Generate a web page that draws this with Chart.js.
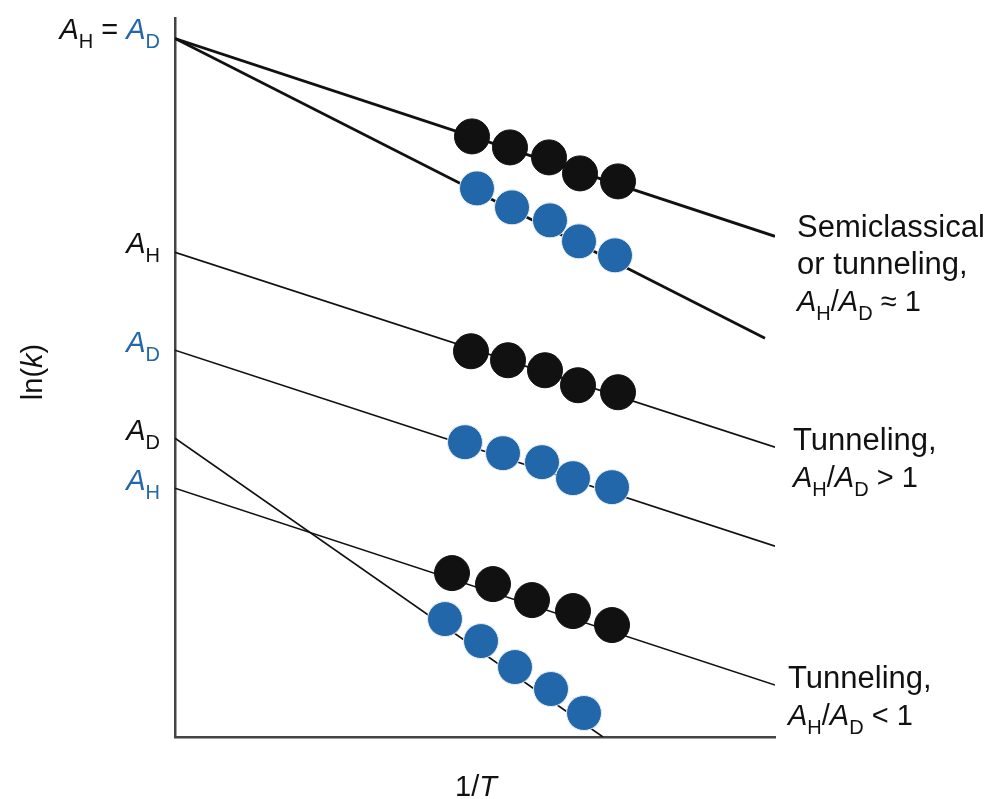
<!DOCTYPE html>
<html>
<head>
<meta charset="utf-8">
<script src="https://cdn.jsdelivr.net/npm/chart.js@4/dist/chart.umd.min.js"></script>
<style>
    body { margin: 0; background: #fff; }
    #wrap { width: 989px; height: 799px; }
</style>
</head>
<body>
<div id="wrap"><canvas id="arrhenius"></canvas></div>
<script>
// Axis ranges (arbitrary units: 1/T across, ln(k) up)
const xRange = [0, 600];
const yRange = [0, 719];

// Fitted lines, [start, end] as 1/T and ln(k)
const semiH_lineX = [0, 600];
const semiH_lineY = [699, 501];
const semiD_lineX = [0, 590];
const semiD_lineY = [699, 399];
const tunGtH_lineX = [0, 600];
const tunGtH_lineY = [485, 290];
const tunGtD_lineX = [0, 600];
const tunGtD_lineY = [387, 191];
const tunLtD_lineX = [0, 428];
const tunLtD_lineY = [299, 0];
const tunLtH_lineX = [0, 600];
const tunLtH_lineY = [249, 52];

// Measured points
const semiH_x = [297, 335, 374, 405, 443];
const semiH_y = [601, 590, 580, 564, 556];
const semiD_x = [302, 337, 375, 404, 440];
const semiD_y = [549, 530, 517, 496, 482];
const tunGtH_x = [296, 333, 370, 403, 443];
const tunGtH_y = [386, 377, 367, 352, 345];
const tunGtD_x = [290, 328, 367, 398, 437];
const tunGtD_y = [295, 284, 275, 259, 250];
const tunLtH_x = [277, 318, 357, 398, 437];
const tunLtH_y = [164, 153, 137, 126, 112];
const tunLtD_x = [270, 306, 340, 376, 409];
const tunLtD_y = [118, 96, 70, 48, 24];

const BLACK = '#111111';
const BLUE = '#2267aa';
const FONT = '"Liberation Sans", Arial, sans-serif';

function pts(xs, ys) {
    return xs.map((x, i) => ({ x: x, y: ys[i] }));
}

function lineSet(xs, ys, width) {
    return {
        data: pts(xs, ys),
        showLine: true,
        borderColor: BLACK,
        borderWidth: width,
        pointRadius: 0,
        order: 2
    };
}

function dotSet(xs, ys, color) {
    return {
        data: pts(xs, ys),
        showLine: false,
        backgroundColor: color,
        borderColor: color === BLUE ? '#e8eef6' : BLACK,
        borderWidth: 1,
        pointRadius: 17.5,
        order: 1
    };
}

// draw a run of text pieces (n = normal, w = larger words, i = italic, s = subscript)
function drawRich(ctx, parts, x, y, align) {
    const fonts = {
        n: '29px ' + FONT,
        w: '31px ' + FONT,
        i: 'italic 29px ' + FONT,
        s: '20px ' + FONT
    };
    let total = 0;
    parts.forEach(p => {
        ctx.font = fonts[p.f];
        total += ctx.measureText(p.t).width;
    });
    let cx = align === 'right' ? x - total : (align === 'center' ? x - total / 2 : x);
    ctx.textBaseline = 'alphabetic';
    ctx.textAlign = 'left';
    parts.forEach(p => {
        ctx.font = fonts[p.f];
        ctx.fillStyle = p.c || BLACK;
        ctx.fillText(p.t, cx, y + (p.f === 's' ? 9 : 0));
        cx += ctx.measureText(p.t).width;
    });
}

function ratio(sign) {
    return [
        { t: 'A', f: 'i' }, { t: 'H', f: 's' }, { t: '/', f: 'n' },
        { t: 'A', f: 'i' }, { t: 'D', f: 's' }, { t: ' ' + sign + ' 1', f: 'n' }
    ];
}

const labelPlugin = {
    id: 'labels',
    afterDraw(chart) {
        const ctx = chart.ctx;
        const ys = chart.scales.y;
        const py = v => ys.getPixelForValue(v);
        ctx.save();

        // intercept labels on the left
        drawRich(ctx, [
            { t: 'A', f: 'i' }, { t: 'H', f: 's' }, { t: ' = ', f: 'n' },
            { t: 'A', f: 'i', c: BLUE }, { t: 'D', f: 's', c: BLUE }
        ], 160, py(semiH_lineY[0]) + 1, 'right');
        drawRich(ctx, [{ t: 'A', f: 'i' }, { t: 'H', f: 's' }], 160, py(tunGtH_lineY[0]) + 1, 'right');
        drawRich(ctx, [{ t: 'A', f: 'i', c: BLUE }, { t: 'D', f: 's', c: BLUE }], 160, py(tunGtD_lineY[0]) + 2, 'right');
        drawRich(ctx, [{ t: 'A', f: 'i' }, { t: 'D', f: 's' }], 160, py(tunLtD_lineY[0]) + 2, 'right');
        drawRich(ctx, [{ t: 'A', f: 'i', c: BLUE }, { t: 'H', f: 's', c: BLUE }], 160, py(tunLtH_lineY[0]) + 2, 'right');

        // regime labels on the right
        drawRich(ctx, [{ t: 'Semiclassical', f: 'w' }], 797, 237, 'left');
        drawRich(ctx, [{ t: 'or tunneling,', f: 'w' }], 797, 274, 'left');
        drawRich(ctx, ratio('\u2248'), 797, 311, 'left');
        drawRich(ctx, [{ t: 'Tunneling,', f: 'w' }], 793, 450, 'left');
        drawRich(ctx, ratio('>'), 793, 487, 'left');
        drawRich(ctx, [{ t: 'Tunneling,', f: 'w' }], 788, 688, 'left');
        drawRich(ctx, ratio('<'), 788, 725, 'left');

        // axis titles
        drawRich(ctx, [{ t: '1/', f: 'n' }, { t: 'T', f: 'i' }], 476, 796, 'center');
        ctx.translate(42, 372);
        ctx.rotate(-Math.PI / 2);
        drawRich(ctx, [{ t: 'ln(', f: 'n' }, { t: 'k', f: 'i' }, { t: ')', f: 'n' }], 0, 0, 'center');
        ctx.restore();
    }
};

new Chart(document.getElementById('arrhenius'), {
    type: 'scatter',
    data: {
        datasets: [
            lineSet(semiH_lineX, semiH_lineY, 2.8),
            lineSet(semiD_lineX, semiD_lineY, 2.8),
            lineSet(tunGtH_lineX, tunGtH_lineY, 1.6),
            lineSet(tunGtD_lineX, tunGtD_lineY, 1.6),
            lineSet(tunLtD_lineX, tunLtD_lineY, 1.6),
            lineSet(tunLtH_lineX, tunLtH_lineY, 1.6),
            dotSet(semiH_x, semiH_y, BLACK),
            dotSet(semiD_x, semiD_y, BLUE),
            dotSet(tunGtH_x, tunGtH_y, BLACK),
            dotSet(tunGtD_x, tunGtD_y, BLUE),
            dotSet(tunLtH_x, tunLtH_y, BLACK),
            dotSet(tunLtD_x, tunLtD_y, BLUE)
        ]
    },
    options: {
        responsive: true,
        maintainAspectRatio: false,
        animation: false,
        layout: { padding: { left: 175, right: 214, top: 18, bottom: 62 } },
        plugins: {
            legend: { display: false },
            tooltip: { enabled: false }
        },
        scales: {
            x: {
                type: 'linear',
                min: xRange[0],
                max: xRange[1],
                ticks: { display: false },
                grid: { display: false, drawTicks: false },
                border: { display: true, color: '#444', width: 2.5 }
            },
            y: {
                type: 'linear',
                min: yRange[0],
                max: yRange[1],
                ticks: { display: false },
                grid: { display: false, drawTicks: false },
                border: { display: true, color: '#444', width: 2.5 }
            }
        }
    },
    plugins: [labelPlugin]
});
</script>
</body>
</html>
